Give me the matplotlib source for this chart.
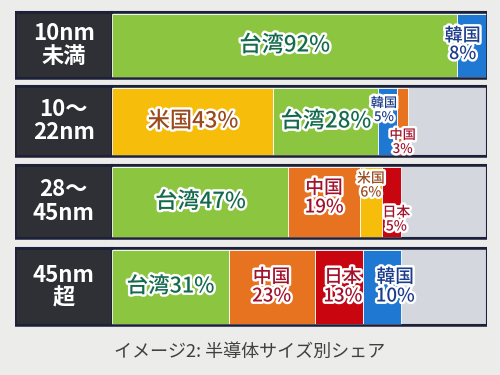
import matplotlib
matplotlib.use('Agg')
import matplotlib.pyplot as plt
import matplotlib.patheffects as pe

plt.rcParams['font.family'] = ['Noto Sans CJK JP', 'DejaVu Sans']

# chart data: one row per process size
categories = ["10nm\n未満", "10〜\n22nm", "28〜\n45nm", "45nm\n超"]
row_names = [["台湾", "韓国"],
             ["米国", "台湾", "韓国", "中国"],
             ["台湾", "中国", "米国", "日本"],
             ["台湾", "中国", "日本", "韓国"]]
row_shares = [[92, 8],
              [43, 28, 5, 3],
              [47, 19, 6, 5],
              [31, 23, 13, 10]]
caption = "イメージ2: 半導体サイズ別シェア"

# colours per country: (fill, text)
colors = {"台湾": ("#8cc540", "#146b4c"),
          "韓国": ("#1f78d1", "#1c3d8c"),
          "米国": ("#f6be0a", "#9a4a1e"),
          "中国": ("#e7721f", "#a3122c"),
          "日本": ("#c9060f", "#a3122c")}
rest_color = "#d4d7de"

# label style per segment: (font size, one line?, dx in %, dy in px)
label_style = [[(16, True, 0, 0), (13, False, -2.5, 0)],
               [(16, True, 0, 0), (16, True, 0, 0), (9.5, False, -1, -11), (9.5, False, 0, 21)],
               [(16, True, 0, 0), (13.5, False, 0, -4), (10, False, 0, -16), (10, False, 1.3, 18)],
               [(15.5, True, 0, 0), (13.5, False, 0, 0), (13.5, False, 1, 0), (13.5, False, 3.5, 0)]]

row_tops = [12, 86, 165, 248]
row_heights = [66, 70, 73, 77]

fig = plt.figure(figsize=(5, 3.75), dpi=100)
fig.patch.set_facecolor("#ececeb")
ax = fig.add_axes([15 / 500, 0, 472 / 500, 1])
ax.set_xlim(-26, 100)
ax.set_ylim(375, 0)
ax.axis("off")

outline = [pe.withStroke(linewidth=3.5, foreground="white")]

for i, cat in enumerate(categories):
    top = row_tops[i]
    h = row_heights[i]
    yc = top + h / 2
    # label box
    ax.barh(yc, 26, left=-26, height=h, color="#2f3035", edgecolor="#1c2038", linewidth=1.5)
    ax.text(-13, yc, cat, color="white", fontsize=16, fontweight="bold",
            ha="center", va="center", linespacing=1.0)
    # grey background for the remainder
    ax.barh(yc, 100, left=0, height=h, color=rest_color, edgecolor="#1c2038", linewidth=1.5)
    left = 0
    for name, share, style in zip(row_names[i], row_shares[i], label_style[i]):
        fill, tcol = colors[name]
        ax.barh(yc, share, left=left, height=h - 3, color=fill, edgecolor="white", linewidth=0.6)
        size, one_line, dx, dy = style
        if one_line:
            txt = f"{name}{share}%"
        else:
            txt = f"{name}\n{share}%"
        ax.text(left + share / 2 + dx, yc + dy, txt, color=tcol, fontsize=size,
                fontweight="medium", ha="center", va="center", linespacing=1.0,
                path_effects=outline, zorder=5)
        left += share
    # dark frame around the whole row
    ax.barh(yc, 126, left=-26, height=h, color="none", edgecolor="#1c2038", linewidth=1.8, zorder=4)

ax.text(63 - 26 - 0.5, 352, caption, color="#404040", fontsize=13, ha="center", va="center")

plt.savefig("out.png", dpi=100, facecolor=fig.get_facecolor())
